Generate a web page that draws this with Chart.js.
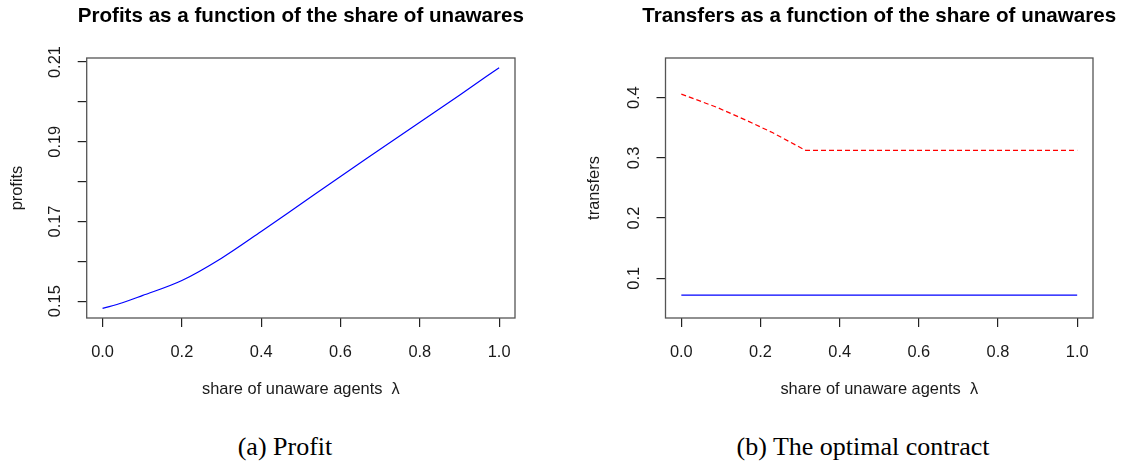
<!DOCTYPE html>
<html>
<head>
<meta charset="utf-8">
<script src="https://cdn.jsdelivr.net/npm/chart.js@4.4.1/dist/chart.umd.min.js"></script>
<style>
	body { margin: 0; background: #fff; width: 1133px; height: 464px; position: relative; overflow: hidden; }
	canvas { position: absolute; top: 0; }
	#profit-canvas { left: 0; }
	#transfer-canvas { left: 566px; }
	.cap { position: absolute; top: 432px; width: 400px; line-height: 32px; text-align: center;
		font: 26px "Liberation Serif", "Times New Roman", serif; color: #000; }
</style>
</head>
<body>
<canvas id="profit-canvas" width="566" height="400"></canvas>
<canvas id="transfer-canvas" width="567" height="400"></canvas>
<div class="cap" style="left:85px">(a) Profit</div>
<div class="cap" style="left:663px">(b) The optimal contract</div>
<script>
// share of unaware agents (x axis)
var lambdaTicks = [0, 0.2, 0.4, 0.6, 0.8, 1.0];

// panel (a): profits
var lambdaProfit = [0, 0.05, 0.1, 0.2, 0.3, 0.4, 0.5, 0.6, 0.7, 0.8, 0.9, 1.0];
var profits = [0.1482, 0.1496, 0.1514, 0.1552, 0.1608, 0.1675, 0.1744, 0.1813, 0.1881, 0.1949, 0.2017, 0.2086];
var profitTicks = [0.15, 0.16, 0.17, 0.18, 0.19, 0.20, 0.21];
var profitLabels = [0.15, 0.17, 0.19, 0.21];

// panel (b): transfers
var lambdaHigh = [0, 0.09, 0.17, 0.23, 0.314, 1.0];
var transferHigh = [0.406, 0.384, 0.3607, 0.3421, 0.3125, 0.3125];
var lambdaLow = [0, 1.0];
var transferLow = [0.072, 0.072];
var transferTicks = [0.1, 0.2, 0.3, 0.4];

var FONT = '"Liberation Sans", Arial, sans-serif';
var TEXT = '#1a1a1a';

function toPoints(xs, ys) {
	return xs.map(function (x, i) { return { x: x, y: ys[i] }; });
}

// box round the plot, main title and rotated y labels, like R does
var framePlugin = {
	id: 'frame',
	afterDraw: function (chart, args, opts) {
		var ctx = chart.ctx, a = chart.chartArea, ys = chart.scales.y;
		ctx.save();
		ctx.strokeStyle = '#555';
		ctx.lineWidth = 1.3;
		ctx.strokeRect(a.left, a.top, a.right - a.left, a.bottom - a.top);

		// title centred on the plot box (the built-in one gets squeezed to the box width)
		ctx.fillStyle = '#000';
		ctx.font = 'bold 20.6px ' + FONT;
		ctx.textAlign = 'center';
		ctx.textBaseline = 'middle';
		ctx.fillText(opts.title, (a.left + a.right) / 2, 16.8);

		ctx.fillStyle = TEXT;
		ctx.font = '16.4px ' + FONT;
		opts.labels.forEach(function (v) {
			ctx.save();
			ctx.translate(a.left - 31, ys.getPixelForValue(v));
			ctx.rotate(-Math.PI / 2);
			ctx.fillText(v.toFixed(opts.digits), 0, 0);
			ctx.restore();
		});
		ctx.restore();
	}
};

function makeChart(id, datasets, cfg) {
	return new Chart(document.getElementById(id), {
		type: 'line',
		data: { datasets: datasets },
		plugins: [framePlugin],
		options: {
			responsive: false,
			animation: false,
			layout: { padding: { left: 0, right: cfg.rightPad, top: 58, bottom: 0 } },
			elements: { point: { radius: 0 } },
			plugins: {
				legend: { display: false },
				tooltip: { enabled: false },
				title: { display: false },
				frame: { title: cfg.title, labels: cfg.yLabels, digits: cfg.digits }
			},
			scales: {
				x: {
					type: 'linear',
					min: -0.04,
					max: 1.04,
					afterBuildTicks: function (s) { s.ticks = lambdaTicks.map(function (v) { return { value: v }; }); },
					afterFit: function (s) { s.height = 82; },
					border: { display: false },
					grid: { drawOnChartArea: false, tickLength: 9, color: '#222', lineWidth: 1.2 },
					ticks: {
						padding: 16,
						maxRotation: 0,
						color: TEXT,
						font: { family: FONT, size: 16.4 },
						callback: function (v) { return Number(v).toFixed(1); }
					},
					title: {
						display: true,
						text: 'share of unaware agents  \u03bb',
						color: TEXT,
						font: { family: FONT, size: 16.4 },
						padding: { top: 0, bottom: 1 }
					}
				},
				y: {
					type: 'linear',
					min: cfg.yMin,
					max: cfg.yMax,
					afterBuildTicks: function (s) { s.ticks = cfg.yTicks.map(function (v) { return { value: v }; }); },
					afterFit: function (s) { s.width = cfg.yWidth; },
					border: { display: false },
					grid: { drawOnChartArea: false, tickLength: 9, color: '#222', lineWidth: 1.2 },
					ticks: { display: false },
					title: {
						display: true,
						text: cfg.yTitle,
						color: TEXT,
						font: { family: FONT, size: 16.4 },
						padding: { top: cfg.yTitlePad, bottom: 0 }
					}
				}
			}
		}
	});
}

makeChart('profit-canvas', [
	{
		data: toPoints(lambdaProfit, profits),
		borderColor: '#0000ff',
		borderWidth: 1.2,
		cubicInterpolationMode: 'monotone'
	}
], {
	title: 'Profits as a function of the share of unawares',
	yTitle: 'profits',
	yMin: 0.14578, yMax: 0.21102,
	yTicks: profitTicks, yLabels: profitLabels, digits: 2,
	yWidth: 86.7, rightPad: 51, yTitlePad: 7.5
});

makeChart('transfer-canvas', [
	{
		data: toPoints(lambdaHigh, transferHigh),
		borderColor: '#ff0000',
		borderWidth: 1.2,
		borderDash: [5, 3]
	},
	{
		data: toPoints(lambdaLow, transferLow),
		borderColor: '#0000ff',
		borderWidth: 1.2
	}
], {
	title: 'Transfers as a function of the share of unawares',
	yTitle: 'transfers',
	yMin: 0.034, yMax: 0.466,
	yTicks: transferTicks, yLabels: transferTicks, digits: 1,
	yWidth: 99.5, rightPad: 40, yTitlePad: 19
});
</script>
</body>
</html>
